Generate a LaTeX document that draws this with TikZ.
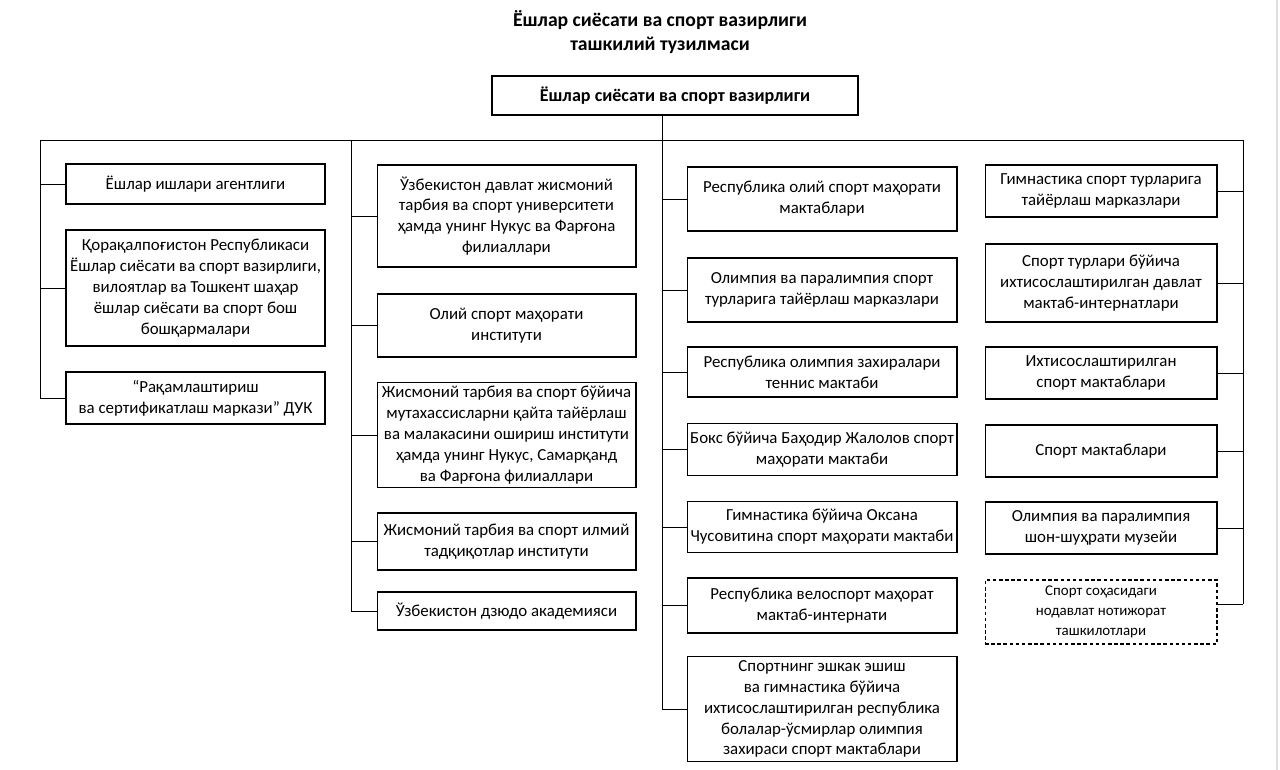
\documentclass[tikz,border=0pt]{standalone}
\usepackage{fontspec}
\setmainfont{Carlito}
\usetikzlibrary{positioning}

\begin{document}
\begin{tikzpicture}[
			x=0.02cm, y=-0.02cm,
			unit/.style={draw, line width=0.6pt, align=center, inner xsep=1pt, inner ysep=2pt,
				font=\fontsize{9.6}{11.9}\selectfont},
			colA/.style={unit, minimum width=5.18cm},
			colB/.style={unit, minimum width=5.18cm},
			colC/.style={unit, minimum width=5.4cm},
			colD/.style={unit, minimum width=4.64cm},
			headbox/.style={draw, line width=0.9pt, align=center,
				font=\fontsize{10.3}{12.5}\bfseries\selectfont},
			link/.style={line width=0.5pt}
			]
			\useasboundingbox (0,0) rectangle (1280,770);
			% Title
			\node[align=center, font=\fontsize{11.2}{13.5}\bfseries\selectfont] (title) at (660,32)
				{Ёшлар сиёсати ва спорт вазирлиги\\ташкилий тузилмаси};
			% Ministry
			\node[headbox, minimum width=7.32cm, minimum height=0.78cm] (min) at (675,95.5)
				{Ёшлар сиёсати ва спорт вазирлиги};
			% Bus
			\coordinate (busL) at (40,140);
			\coordinate (busB) at (351,140);
			\coordinate (busC) at (662,140);
			\coordinate (busR) at (1243,140);
			\draw[link] (busC |- min.south) -- (busC);
			\draw[link] (busL) -- (busR);
			
			% First column
			\node[colA, minimum height=0.8cm] (a1) at (195.5,184) {Ёшлар ишлари агентлиги};
			\node[colA, minimum height=2.32cm] (a2) at (195.5,288)
				{Қорақалпоғистон Республикаси\\Ёшлар сиёсати ва спорт вазирлиги,\\вилоятлар ва Тошкент шаҳар\\ёшлар сиёсати ва спорт бош\\бошқармалари};
			\node[colA, minimum height=1.04cm] (a3) at (195.5,398)
				{“Рақамлаштириш\\ва сертификатлаш маркази” ДУК};
			
			% Second column
			\node[colB, minimum height=2.04cm] (b1) at (506.5,216)
				{Ўзбекистон давлат жисмоний\\тарбия ва спорт университети\\ҳамда унинг Нукус ва Фарғона\\филиаллари};
			\node[colB, minimum height=1.26cm] (b2) at (506.5,325.5)
				{Олий спорт маҳорати\\институти};
			\node[colB, minimum height=2.08cm] (b3) at (506.5,435)
				{Жисмоний тарбия ва спорт бўйича\\мутахассисларни қайта тайёрлаш\\ва малакасини ошириш институти\\ҳамда унинг Нукус, Самарқанд\\ва Фарғона филиаллари};
			\node[colB, minimum height=1.14cm] (b4) at (506.5,541.5)
				{Жисмоний тарбия ва спорт илмий\\тадқиқотлар институти};
			\node[colB, minimum height=0.76cm] (b5) at (506.5,611)
				{Ўзбекистон дзюдо академияси};
			
			% Third column
			\node[colC, minimum height=1.28cm] (c1) at (822,199)
				{Республика олий спорт маҳорати\\мактаблари};
			\node[colC, minimum height=1.28cm] (c2) at (822,290)
				{Олимпия ва паралимпия спорт\\турларига тайёрлаш марказлари};
			\node[colC, minimum height=1.0cm] (c3) at (822,372)
				{Республика олимпия захиралари\\теннис мактаби};
			\node[colC, minimum height=1.04cm] (c4) at (822,449.5)
				{Бокс бўйича Баҳодир Жалолов спорт\\маҳорати мактаби};
			\node[colC, minimum height=1.02cm] (c5) at (822,527)
				{Гимнастика бўйича Оксана\\Чусовитина спорт маҳорати мактаби};
			\node[colC, minimum height=1.1cm] (c6) at (822,605.5)
				{Республика велоспорт маҳорат\\мактаб-интернати};
			\node[colC, minimum height=2.04cm] (c7) at (822,709)
				{Спортнинг эшкак эшиш\\ва гимнастика бўйича\\ихтисослаштирилган республика\\болалар-ўсмирлар олимпия\\захираси спорт мактаблари};
			
			% Fourth column
			\node[colD, minimum height=1.04cm] (d1) at (1101,191)
				{Гимнастика спорт турларига\\тайёрлаш марказлари};
			\node[colD, minimum height=1.56cm] (d2) at (1101,283)
				{Спорт турлари бўйича\\ихтисослаштирилган давлат\\мактаб-интернатлари};
			\node[colD, minimum height=1.04cm] (d3) at (1101,373)
				{Ихтисослаштирилган\\спорт мактаблари};
			\node[colD, minimum height=1.04cm] (d4) at (1101,451)
				{Спорт мактаблари};
			\node[colD, minimum height=1.04cm] (d5) at (1101,528)
				{Олимпия ва паралимпия\\шон-шуҳрати музейи};
			\node[colD, dash pattern=on 2pt off 1.5pt, minimum height=1.28cm,
				font=\fontsize{8.5}{11.4}\selectfont] (d6) at (1101,612)
				{Спорт соҳасидаги\\нодавлат нотижорат\\ташкилотлари};
			\coordinate (d6link) at (1243,604);
			
			% Vertical lines
			\draw[link] (busL) -- (busL |- a3.west);
			\draw[link] (busB) -- (busB |- b5.west);
			\draw[link] (busC) -- (busC |- c7.west);
			\draw[link] (busR) -- (d6link);
			% Branches
			\foreach \n in {a1,a2,a3} \draw[link] (\n.west) -- (\n.west -| busL);
			\foreach \n in {b1,b2,b3,b4,b5} \draw[link] (\n.west) -- (\n.west -| busB);
			\foreach \n in {c1,c2,c3,c4,c5,c6,c7} \draw[link] (\n.west) -- (\n.west -| busC);
			\foreach \n in {d1,d2,d3,d4,d5} \draw[link] (\n.east) -- (\n.east -| busR);
			\draw[link] (d6.east |- d6link) -- (d6link);
			% Page edge
			\draw[gray!25, line width=0.8pt] (1277,0) -- (1277,770);
		\end{tikzpicture}
\end{document}
